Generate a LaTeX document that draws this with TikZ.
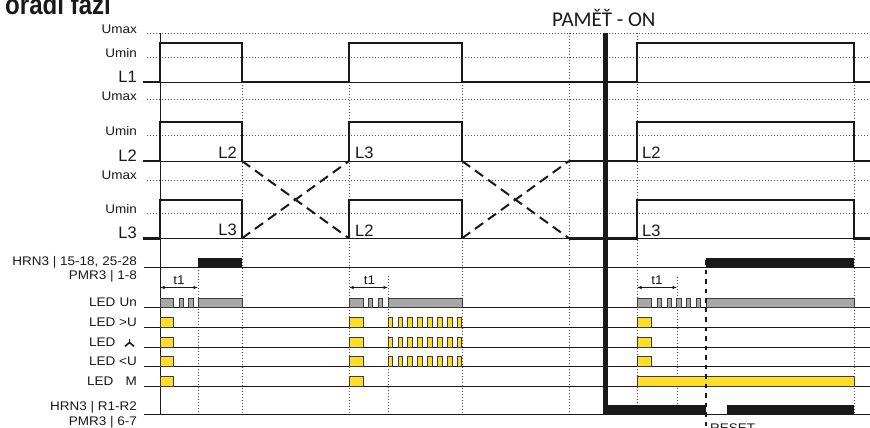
\documentclass[tikz,border=0pt]{standalone}
\usepackage{fontspec}
\setmainfont{Liberation Sans}
\newfontfamily\labfont{Liberation Sans}[FakeStretch=1.08]
\newfontfamily\memfont{Carlito}
\newfontfamily\titlefont{Liberation Sans}[FakeStretch=0.86]
\usetikzlibrary{arrows.meta}
\definecolor{ledyellow}{RGB}{255,221,40}
\definecolor{ledgray}{RGB}{168,168,168}
\definecolor{ink}{RGB}{25,25,25}
\begin{document}
\begin{tikzpicture}[x=1pt,y=-1pt,
  sig/.style={line width=2.4pt, draw=ink, line cap=butt, line join=miter},
  base/.style={line width=1pt, draw=ink},
  dots/.style={line width=0.9pt, draw=ink!75, dash pattern=on 0.9pt off 2.1pt},
  cross/.style={line width=2pt, draw=ink, dash pattern=on 10pt off 6pt},
  lab/.style={font=\labfont\fontsize{12.5}{13}\selectfont, text=ink, inner sep=0pt, anchor=base east},
  labw/.style={lab, anchor=base west},
  Llab/.style={font=\fontsize{16.5}{17}\selectfont, text=ink, inner sep=0pt, anchor=base east},
  Lin/.style={Llab, anchor=base west},
  grayled/.style={fill=ledgray, draw=ink!85, line width=0.8pt},
  yled/.style={fill=ledyellow, draw=ink!85, line width=0.8pt},
  relay/.style={fill=ink},
  tarrow/.style={line width=0.8pt, draw=ink, {Latex[length=4.5pt,width=3.5pt]}-{Latex[length=4.5pt,width=3.5pt]}},
]
\useasboundingbox (0,0) rectangle (870,428);

% dotted level lines
\foreach \y in {33.3,57.3,99.5,135.5,180.5,213.3}
  \draw[dots] (147,\y) -- (870,\y);
% dotted time markers
\draw[dots] (242,82) -- (242,414);
\draw[dots] (349,82) -- (349,414);
\draw[dots] (462,82) -- (462,414);
\draw[dots] (569,33.3) -- (569,414);
\draw[dots] (637,33.3) -- (637,414);
\draw[dots] (854,82) -- (854,414);
\draw[dots] (198,258) -- (198,414);
\draw[dots] (388,276) -- (388,414);
\draw[dots] (677,277) -- (677,414);

% time zero line
\draw[base] (160,33.3) -- (160,414);

% thin baselines
\foreach \y in {82,161,238.3}
  \draw[base] (143,\y) -- (870,\y);
\foreach \y in {267.3,307,327,347,366.5,386,414}
  \draw[base] (144,\y) -- (870,\y);

% L1
\draw[sig] (143,82) -- (160,82) -- (160,43.3) -- (242,43.3) -- (242,82) -- (349,82)
  -- (349,43.3) -- (462,43.3) -- (462,82) -- (637,82) -- (637,43.3) -- (854,43.3)
  -- (854,82) -- (870,82);
% L2
\draw[sig] (143,161) -- (160,161) -- (160,121.7) -- (242,121.7) -- (242,161);
\draw[sig] (349,161) -- (349,121.7) -- (462,121.7) -- (462,161);
\draw[sig] (569,161) -- (637,161) -- (637,121.7) -- (854,121.7) -- (854,161) -- (870,161);
% L3
\draw[sig] (143,238.3) -- (160,238.3) -- (160,200) -- (242,200) -- (242,238.3);
\draw[sig] (349,238.3) -- (349,200) -- (462,200) -- (462,238.3);
\draw[sig] (569,238.3) -- (637,238.3) -- (637,200) -- (854,200) -- (854,238.3) -- (870,238.3);
% phase swaps
\draw[cross] (242,161) -- (349,238.3);
\draw[cross] (242,238.3) -- (349,161);
\draw[cross] (462,161) -- (569,238.3);
\draw[cross] (462,238.3) -- (569,161);

% relay 15-18
\fill[relay] (198,258.3) rectangle (242,267.3);
\fill[relay] (706,258.3) rectangle (854,267.3);
% relay R1-R2
\fill[relay] (603,404.5) rectangle (706,414);
\fill[relay] (727,404.5) rectangle (854,414);

% t1 arrows
\draw[tarrow] (160,287.5) -- (198,287.5);
\draw[tarrow] (349,287.5) -- (388,287.5);
\draw[tarrow] (637,287.5) -- (677,287.5);
\node[lab, anchor=base] (ta) at (179,284.5) {t1};
\node[lab, anchor=base] (tb) at (369.5,284.5) {t1};
\node[lab, anchor=base] (tc) at (657,284.5) {t1};

% LED Un
\foreach \a/\b in {160/173.5,179/183.5,188.5/193,198/242,
                   349/363.5,368/372.5,378/382.5,388/462,
                   637/651.5,657/661.5,667/671.5,676.5/681,686/690.5,696/700.5,706/854}
  \draw[grayled] (\a,298) rectangle (\b,307);
% LED yellow blocks
\foreach \yb in {327,347,366.5,386}{
  \draw[yled] (160,\yb-10) rectangle (173.5,\yb);
  \draw[yled] (349,\yb-10) rectangle (363.5,\yb);
}
\foreach \yb in {327,347,366.5}{
  \draw[yled] (637,\yb-10) rectangle (651.5,\yb);
  \foreach \k in {0,...,7}
    \draw[yled] (388+9.9*\k,\yb-10) rectangle (392.5+9.9*\k,\yb);
}
\draw[yled] (637,376) rectangle (854,386);

% memory on line
\draw[line width=4.4pt, draw=ink] (605.5,33.3) -- (605.5,414);
% reset line
\draw[line width=2pt, draw=ink, dash pattern=on 4.5pt off 5pt] (706,260) -- (706,428);

% labels
\node[lab] (umax1) at (137,33.5) {Umax};
\node[lab] (umin1) at (137,57.3) {Umin};
\node[Llab] (l1) at (137,82) {L1};
\node[lab] (umax2) at (137,100.5) {Umax};
\node[lab] (umin2) at (137,135.5) {Umin};
\node[Llab] (l2) at (137,161) {L2};
\node[lab] (umax3) at (137,179.5) {Umax};
\node[lab] (umin3) at (137,213.5) {Umin};
\node[Llab] (l3) at (137,238.3) {L3};

\node[Llab] (in1) at (237,158.5) {L2};
\node[Llab] (in2) at (237,235.5) {L3};
\node[Lin] (in3) at (355,158.5) {L3};
\node[Lin] (in4) at (355,236) {L2};
\node[Lin] (in5) at (642,158) {L2};
\node[Lin] (in6) at (642,236) {L3};

\node[lab] (hrn1) at (137,265.5) {HRN3 | 15-18, 25-28};
\node[lab] (pmr1) at (137,279.5) {PMR3 | 1-8};
\node[lab] (hrn2) at (137,410) {HRN3 | R1-R2};
\node[lab] (pmr2) at (137,425) {PMR3 | 6-7};

\node[labw] (led1) at (89,306.3) {LED};
\node[lab] (un) at (137,306.3) {Un};
\node[labw] (led2) at (89,326.3) {LED};
\node[lab] (ov) at (137,326.3) {>U};
\node[labw] (led3) at (89,346.3) {LED};
\draw[line width=1.6pt, draw=ink] (129.5,338.8) -- (129.5,342.5);
\draw[line width=1.6pt, draw=ink] (125,346.3) -- (129.5,342.5) -- (134,346.3);
\node[labw] (led4) at (89,365.8) {LED};
\node[lab] (uv) at (137,365.8) {<U};
\node[labw] (led5) at (87,385.5) {LED};
\node[lab] (mm) at (137,385.5) {M};

\node[anchor=base west, inner sep=0pt, text=ink, font=\memfont\fontsize{21}{21}\selectfont] (mem) at (552,26.7) {PAMĚŤ - ON};
\node[labw] (reset) at (710,432) {RESET};
\node[anchor=base west, inner sep=0pt, text=ink, font=\titlefont\bfseries\fontsize{28}{28}\selectfont] (title) at (5,15) {ořadí fází};
\end{tikzpicture}
\end{document}
